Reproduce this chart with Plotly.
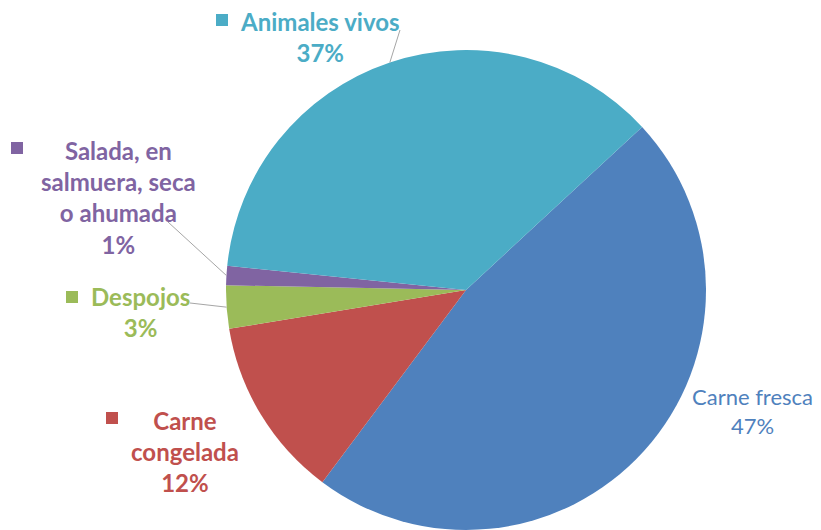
import math
import plotly.graph_objects as go

labels = ["Carne fresca", "Carne congelada", "Despojos", "Salada, en salmuera, seca o ahumada", "Animales vivos"]
values = [47.1, 12.2, 2.9, 1.3, 36.5]
colors = ["#4F81BD", "#C0504D", "#9BBB59", "#8064A2", "#4BACC6"]
label_lines = [["Carne fresca"], ["Carne", "congelada"], ["Despojos"],
               ["Salada, en", "salmuera, seca", "o ahumada"], ["Animales vivos"]]
bold = [False, True, True, True, True]

W, H = 821, 530
OFF = 8  # page offset of the plot in the browser
CX, CY, R = 466 - OFF, 290 - OFF, 240
ROT = 47.2

fig = go.Figure(go.Pie(
    labels=labels, values=values, sort=False, direction="clockwise", rotation=ROT,
    marker=dict(colors=colors, line=dict(width=0)), textinfo="none",
    domain=dict(x=[(CX - R) / W, (CX + R) / W], y=[(H - CY - R) / H, (H - CY + R) / H]),
    showlegend=False, hoverinfo="label+percent"))

def px(x, y):
    return (x - OFF) / W, 1 - (y - OFF) / H

# label layout (reference pixels): text center x, first line center y, square pos, leader end, font size
layout_info = [
    (752, 396, None, None, 22),
    (185, 421, (112, 418), None, 24),
    (140, 297, (72, 297), (190, 303), 24),
    (118, 152, (17, 148), (168, 222), 24),
    (320, 22, (222, 20), (400, 30), 24),
]
LH = 30
total = sum(values)
annotations, shapes = [], []
cum = 0
for i, v in enumerate(values):
    mid = ROT + (cum + v / 2) / total * 360
    cum += v
    pct = int(v / total * 100 + 0.5 + 1e-9)
    lines = label_lines[i] + [f"{pct}%"]
    if bold[i]:
        lines = [f"<b>{l}</b>" for l in lines]
    tx, ty, sq, lead, fs = layout_info[i]
    cy = ty + (len(lines) - 1) * LH / 2
    x, y = px(tx, cy)
    annotations.append(dict(x=x, y=y, xref="paper", yref="paper", text="<br>".join(lines),
                            showarrow=False, xanchor="center", yanchor="middle", align="center",
                            font=dict(family="Lato", size=fs, color=colors[i])))
    if sq:
        x0, y0 = px(sq[0] - 6, sq[1] - 6)
        x1, y1 = px(sq[0] + 6, sq[1] + 6)
        shapes.append(dict(type="rect", xref="paper", yref="paper", x0=x0, x1=x1, y0=y0, y1=y1,
                           fillcolor=colors[i], line=dict(width=0)))
    if lead:
        a = math.radians(mid)
        ex, ey = CX + R * math.sin(a), CY - R * math.cos(a)
        x0, y0 = px(*lead)
        x1, y1 = ex / W, 1 - ey / H
        shapes.append(dict(type="line", xref="paper", yref="paper", x0=x0, y0=y0, x1=x1, y1=y1,
                           line=dict(color="#A6A6A6", width=1)))

fig.update_layout(width=W, height=H, margin=dict(l=0, r=0, t=0, b=0),
                  paper_bgcolor="white", plot_bgcolor="white",
                  annotations=annotations, shapes=shapes)
fig.write_html("out.html")
